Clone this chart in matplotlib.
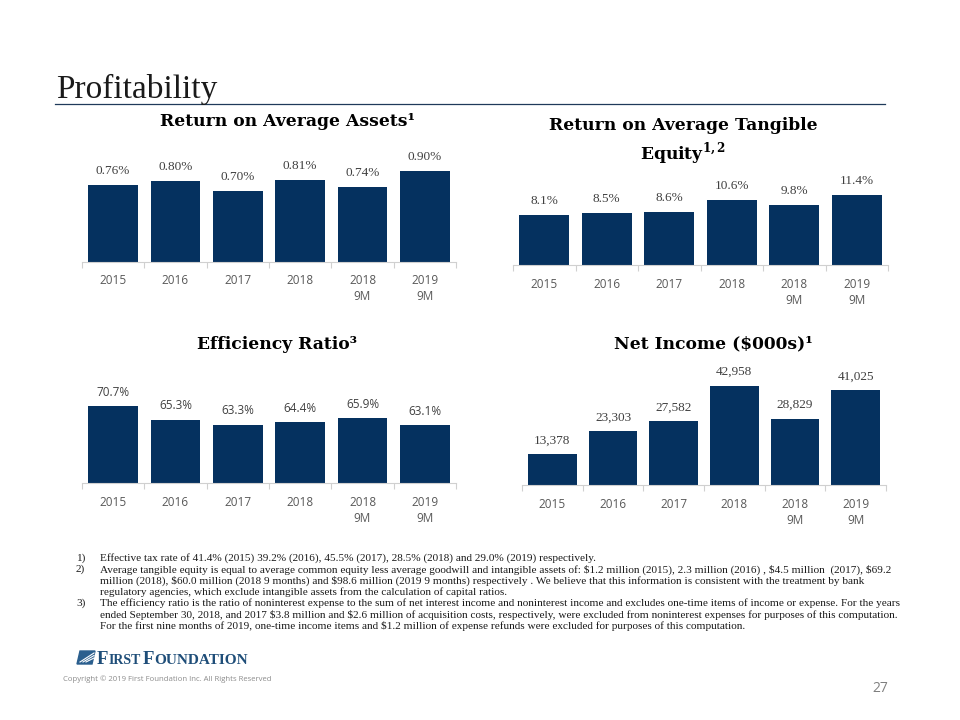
import matplotlib
matplotlib.use('Agg')
from matplotlib import pyplot as plt
from matplotlib.patches import Polygon

# chart data
categories = ['2015', '2016', '2017', '2018', '2018\n9M', '2019\n9M']
roaa = [0.76, 0.80, 0.70, 0.81, 0.74, 0.90]
roate = [8.1, 8.5, 8.6, 10.6, 9.8, 11.4]
efficiency = [70.7, 65.3, 63.3, 64.4, 65.9, 63.1]
net_income = [13378, 23303, 27582, 42958, 28829, 41025]

roaa_labels = ['0.76%', '0.80%', '0.70%', '0.81%', '0.74%', '0.90%']
roate_labels = ['8.1%', '8.5%', '8.6%', '10.6%', '9.8%', '11.4%']
eff_labels = ['70.7%', '65.3%', '63.3%', '64.4%', '65.9%', '63.1%']
ni_labels = ['13,378', '23,303', '27,582', '42,958', '28,829', '41,025']

footnotes = [
    ('1)', ['Effective tax rate of 41.4% (2015) 39.2% (2016), 45.5% (2017), 28.5% (2018) and 29.0% (2019) respectively.']),
    ('2)', ['Average tangible equity is equal to average common equity less average goodwill and intangible assets of: $1.2 million (2015), 2.3 million (2016) , $4.5 million  (2017), $69.2',
            'million (2018), $60.0 million (2018 9 months) and $98.6 million (2019 9 months) respectively . We believe that this information is consistent with the treatment by bank',
            'regulatory agencies, which exclude intangible assets from the calculation of capital ratios.']),
    ('3)', ['The efficiency ratio is the ratio of noninterest expense to the sum of net interest income and noninterest income and excludes one-time items of income or expense. For the years',
            'ended September 30, 2018, and 2017 $3.8 million and $2.6 million of acquisition costs, respectively, were excluded from noninterest expenses for purposes of this computation.',
            'For the first nine months of 2019, one-time income items and $1.2 million of expense refunds were excluded for purposes of this computation.']),
]

NAVY = '#05315f'
SERIF = 'DejaVu Serif'
LSERIF = 'Liberation Serif'
SANS = 'Open Sans'

plt.rcParams['mathtext.fontset'] = 'custom'
plt.rcParams['mathtext.rm'] = SERIF
plt.rcParams['mathtext.bf'] = SERIF + ':bold'

fig = plt.figure(figsize=(9.6, 7.2), dpi=100)
W, H = 960.0, 720.0


def px_axes(x0, x1, ytop, ybot):
    return fig.add_axes([x0 / W, 1 - ybot / H, (x1 - x0) / W, (ybot - ytop) / H])


def bar_panel(ax, values, labels, ylim, label_font, label_size):
    x = list(range(len(values)))
    ax.bar(x, values, width=0.8, color=NAVY)
    ax.set_xlim(-0.5, len(values) - 0.5)
    ax.set_ylim(*ylim)
    for s in ['top', 'right', 'left']:
        ax.spines[s].set_visible(False)
    ax.spines['bottom'].set_color('#d0d0d0')
    ax.spines['bottom'].set_linewidth(0.8)
    ax.set_yticks([])
    ax.set_xticks(x)
    ax.set_xticklabels(categories, fontsize=8.5, color='#595959', family=SANS, linespacing=1.3)
    ax.tick_params(axis='x', which='major', length=0, pad=9)
    ax.set_xticks([i - 0.5 for i in range(len(values) + 1)], minor=True)
    ax.tick_params(axis='x', which='minor', length=4, color='#d0d0d0', width=0.8)
    for xi, v, lab in zip(x, values, labels):
        ax.annotate(lab, (xi, v), xytext=(0, 10), textcoords='offset points',
                    ha='center', va='center', fontsize=label_size, color='#404040',
                    family=label_font)


# title and rule
fig.text(56 / W, 1 - 98 / H, 'Profitability', fontsize=24, family=LSERIF,
         color='#1a1a1a', va='baseline', ha='left')
fig.add_artist(plt.Line2D([55 / W, 885 / W], [1 - 104 / H, 1 - 104 / H], color='#1f3a5a', lw=0.9))

TSIZE = 12.3

# Return on Average Assets
ax1 = px_axes(82, 456, 140, 262)
bar_panel(ax1, roaa, roaa_labels, (0, 0.90 * 122 / 91), LSERIF, 9.5)
fig.text(288 / W, 1 - 122 / H, 'Return on Average Assets¹', fontsize=TSIZE, family=SERIF,
         weight='bold', ha='center', va='center')

# Return on Average Tangible Equity
ax2 = px_axes(513, 888, 160, 265)
bar_panel(ax2, roate, roate_labels, (0, 11.4 * 105 / 70), LSERIF, 9.5)
fig.text(683 / W, 1 - 126 / H, 'Return on Average Tangible', fontsize=TSIZE, family=SERIF,
         weight='bold', ha='center', va='center')
fig.text(683 / W, 1 - 154 / H, r'Equity$^{\mathbf{1,2}}$', fontsize=TSIZE, family=SERIF,
         weight='bold', ha='center', va='center')

# Efficiency Ratio
ax3 = px_axes(82, 456, 370, 483)
bar_panel(ax3, efficiency, eff_labels, (40, 40 + 113 / 2.5), SANS, 8.5)
fig.text(277 / W, 1 - 344 / H, 'Efficiency Ratio³', fontsize=TSIZE, family=SERIF,
         weight='bold', ha='center', va='center')

# Net Income
ax4 = px_axes(522, 886, 370, 485)
bar_panel(ax4, net_income, ni_labels, (0, 42958 * 115 / 99), LSERIF, 9.5)
fig.text(713 / W, 1 - 344 / H, 'Net Income ($000s)¹', fontsize=TSIZE, family=SERIF,
         weight='bold', ha='center', va='center', parse_math=False)

# footnotes
y = 558
for num, lines in footnotes:
    fig.text(76 / W, 1 - y / H, num, fontsize=8.15, family=LSERIF, va='center',
             color='#1a1a1a', parse_math=False)
    for ln in lines:
        fig.text(100 / W, 1 - y / H, ln, fontsize=8.15, family=LSERIF, va='center',
                 color='#1a1a1a', parse_math=False)
        y += 11.4

# logo
icon = Polygon([(77 / W, 1 - 664 / H), (80 / W, 1 - 651 / H), (95 / W, 1 - 651 / H), (92 / W, 1 - 664 / H)],
               closed=True, transform=fig.transFigure, color='#2b5f8e')
fig.add_artist(icon)
for k in range(3):
    fig.add_artist(plt.Line2D([(80 + 3 * k) / W, 94 / W], [1 - 662 / H, 1 - (653 + 2.5 * k) / H],
                              color='white', lw=0.8))
fig.text(97 / W, 1 - 663.5 / H, 'F', fontsize=13.5, family=LSERIF, weight='bold',
         color='#1f4e79', va='baseline')
fig.text(108.5 / W, 1 - 663.5 / H, 'IRST', fontsize=10, family=LSERIF, weight='bold',
         color='#1f4e79', va='baseline')
fig.text(143 / W, 1 - 663.5 / H, 'F', fontsize=13.5, family=LSERIF, weight='bold',
         color='#1f4e79', va='baseline')
fig.text(154.5 / W, 1 - 663.5 / H, 'OUNDATION', fontsize=11, family=LSERIF, weight='bold',
         color='#1f4e79', va='baseline')
fig.text(63 / W, 1 - 679 / H, 'Copyright © 2019 First Foundation Inc. All Rights Reserved',
         fontsize=5.6, family=SANS, color='#8c8c8c', va='center')
fig.text(888 / W, 1 - 689 / H, '27', fontsize=10, family=SANS, color='#7f7f7f', va='center', ha='right')

fig.savefig('out.png', dpi=100)
